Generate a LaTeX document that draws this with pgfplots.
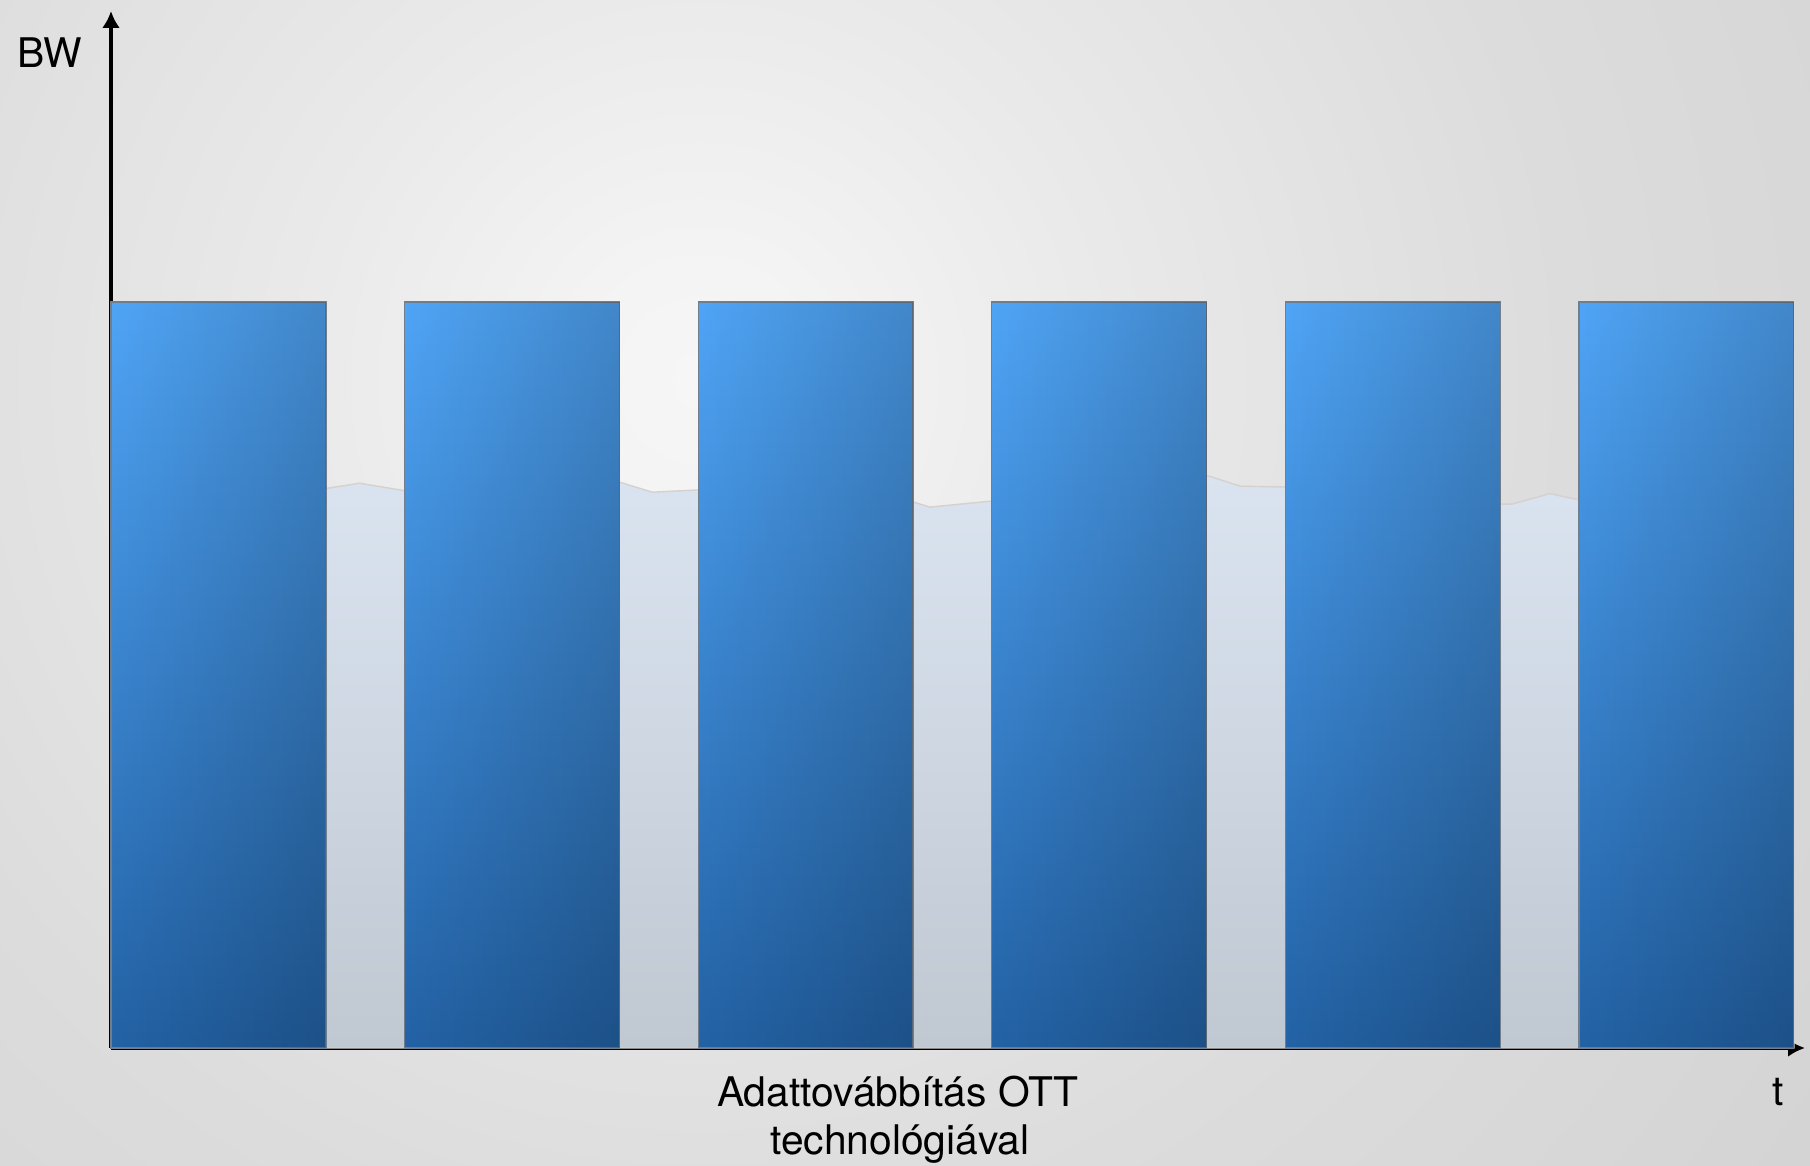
\documentclass[border=0pt]{standalone}
\usepackage{fontspec}
\setmainfont{TeX Gyre Heros}
\usepackage{pgfplots}
\pgfplotsset{compat=1.18}
\usepackage{pgfplotstable}
\usetikzlibrary{arrows.meta,fadings}

% colours
\definecolor{barlight}{RGB}{80,165,246}
\definecolor{bardark}{RGB}{35,98,165}
\definecolor{baredge}{RGB}{112,126,142}
\definecolor{arealight}{RGB}{218,228,240}
\definecolor{areadark}{RGB}{192,200,210}
\definecolor{areaedge}{RGB}{212,209,206}

% soft radial backdrop around its own origin
\pgfdeclareradialshading{backdrop}{\pgfpoint{0bp}{0bp}}{%
  color(0bp)=(rgb,255:red,246;green,246;blue,246);
  color(2bp)=(rgb,255:red,244;green,244;blue,244);
  color(4.5bp)=(rgb,255:red,239;green,239;blue,239);
  color(7bp)=(rgb,255:red,234;green,234;blue,234);
  color(12.5bp)=(rgb,255:red,225;green,225;blue,225);
  color(15.5bp)=(rgb,255:red,220;green,220;blue,220);
  color(21bp)=(rgb,255:red,215;green,215;blue,215);
  color(25bp)=(rgb,255:red,211;green,211;blue,211);
  color(50bp)=(rgb,255:red,205;green,205;blue,205)}

% darkening towards the right-hand side of each burst
\tikzfading[name=darkright, left color=transparent!100, right color=transparent!0]

% background traffic level between and behind the bursts
\pgfplotstableread{
t      bw
0.000  75.3
0.732  75.0
0.847  75.7
1.000  74.7
1.728  75.9
1.844  74.5
1.997  74.8
2.724  73.3
2.789  72.5
2.997  73.3
3.728  76.8
3.847  75.3
3.993  75.2
4.724  72.9
4.772  72.9
4.901  74.3
4.997  73.5
5.732  73.5
}\traffic

% the six bursts: slot centre and height
\pgfplotstableread{
t      bw
0.366  100
1.366  100
2.366  100
3.366  100
4.366  100
5.366  100
}\bursts

\begin{document}
\begin{tikzpicture}
\path[use as bounding box] (0,0) rectangle (452.5pt,291.5pt);
\begin{scope}
  \clip (0,0) rectangle (452.5pt,291.5pt);
  \path[shading=backdrop] (-175pt,-153.5pt) rectangle (525pt,546.5pt);
\end{scope}
\begin{axis}[
  at={(27.75pt,29.5pt)}, anchor=south west,
  scale only axis,
  width=423.5pt, height=259.25pt,
  xmin=0, xmax=5.77,
  ymin=0, ymax=139,
  axis lines*=left,
  axis line style={line width=0.8pt, -{Latex[length=4.2pt,width=4.4pt]}},
  xtick=\empty, ytick=\empty,
  clip=false,
  burst/.style={ybar, bar width=0.732, bar shift=0pt,
    draw=baredge, line width=0.3pt,
    top color=barlight, bottom color=bardark},
  burstshade/.style={ybar, bar width=0.732, bar shift=0pt,
    draw=none, fill=black, fill opacity=0.18, path fading=darkright},
]
\addplot[draw=areaedge, line width=0.35pt,
  top color=arealight, bottom color=areadark]
  table[x=t, y=bw] {\traffic} \closedcycle;

% one burst per slot, each with its own gradient
\foreach \k in {0,...,5} {
  \addplot[burst] table[x=t, y=bw, skip coords between index={0}{\k},
    skip coords between index={\numexpr\k+1\relax}{6}] {\bursts};
  \addplot[burstshade] table[x=t, y=bw, skip coords between index={0}{\k},
    skip coords between index={\numexpr\k+1\relax}{6}] {\bursts};
}
\end{axis}

\fontsize{10.2}{12}\selectfont
\node[anchor=base, inner sep=0pt] at (12.5pt,274.5pt) {BW};
\node[anchor=base, inner sep=0pt] at (444.5pt,15pt) {t};
\node[anchor=base, inner sep=0pt] at (224.4pt,14.75pt) {Adattovábbítás OTT};
\node[anchor=base, inner sep=0pt] at (225pt,2.75pt) {technológiával};
\end{tikzpicture}
\end{document}
